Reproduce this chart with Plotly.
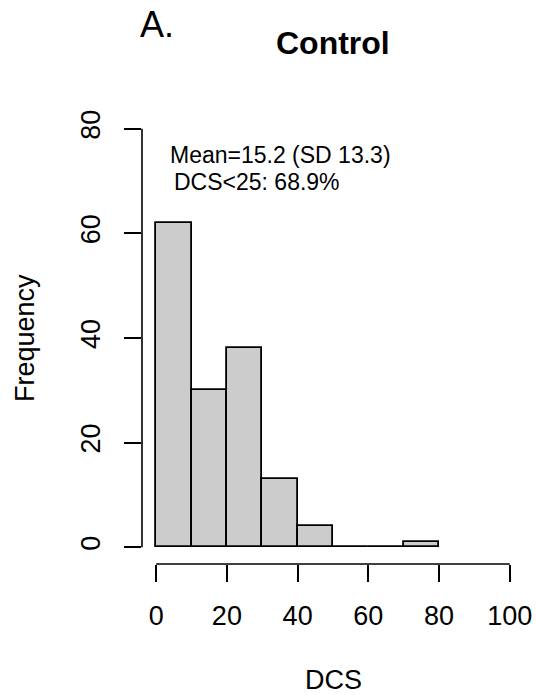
import plotly.graph_objects as go

# Data
bin_edges = [0, 10, 20, 30, 40, 50, 60, 70, 80]
counts = [62, 30, 38, 13, 4, 0, 0, 1]
x_ticks = [0, 20, 40, 60, 80, 100]
y_ticks = [0, 20, 40, 60, 80]
title_text = "Control"
panel_label = "A."
stats_line1 = "Mean=15.2 (SD 13.3)"
stats_line2 = "DCS<25: 68.9%"
x_title = "DCS"
y_title = "Frequency"

centers = [(bin_edges[i] + bin_edges[i + 1]) / 2 for i in range(len(counts))]
widths = [bin_edges[i + 1] - bin_edges[i] for i in range(len(counts))]

FONT = "Liberation Sans, Arial, sans-serif"
TICK_SIZE = 27

fig = go.Figure()
fig.add_trace(go.Bar(
    x=centers, y=counts, width=widths,
    marker=dict(color="#CCCCCC", line=dict(color="black", width=1.8)),
    hoverinfo="x+y",
))

x_lo, x_hi = x_ticks[0], x_ticks[-1]
y_lo, y_hi = y_ticks[0], y_ticks[-1]
xpad = 0.04 * (x_hi - x_lo)
ypad = 0.04 * (y_hi - y_lo)

fig.update_layout(
    template="none",
    width=537, height=695,
    margin=dict(l=142, r=13, t=112, b=131, pad=0),
    paper_bgcolor="white", plot_bgcolor="white",
    font=dict(family=FONT, color="black", size=TICK_SIZE),
    showlegend=False,
    bargap=0,
    xaxis=dict(
        automargin=False,
        range=[x_lo - xpad, x_hi + xpad],
        tickvals=x_ticks, ticktext=[str(v) for v in x_ticks],
        ticks="outside", ticklen=17, tickwidth=1.6, tickcolor="black",
        showline=False, showgrid=False, zeroline=False,
        tickfont=dict(size=TICK_SIZE, family=FONT, color="black"),
        ticklabelstandoff=11,
    ),
    yaxis=dict(
        automargin=False,
        range=[y_lo - ypad, y_hi + ypad],
        tickvals=y_ticks, ticktext=[str(v) for v in y_ticks],
        ticks="outside", ticklen=17, tickwidth=1.6, tickcolor="black",
        showline=False, showgrid=False, zeroline=False,
        tickangle=-90,
        tickfont=dict(size=TICK_SIZE, family=FONT, color="black"),
        ticklabelstandoff=13,
    ),
    shapes=[
        dict(type="line", xref="x", yref="paper", x0=x_lo, x1=x_hi, y0=0, y1=0,
             line=dict(color="black", width=1.6)),
        dict(type="line", xref="paper", yref="y", x0=0, x1=0, y0=y_lo, y1=y_hi,
             line=dict(color="black", width=1.6)),
    ],
    annotations=[
        dict(text=panel_label, xref="paper", yref="paper", x=-0.0105, y=1.1925,
             xanchor="left", yanchor="middle", showarrow=False,
             font=dict(size=36, family=FONT, color="black")),
        dict(text="<b>" + title_text + "</b>", xref="paper", yref="paper", x=0.5, y=1.1527,
             xanchor="center", yanchor="middle", showarrow=False,
             font=dict(size=32, family=FONT, color="black")),
        dict(text=stats_line1, xref="paper", yref="paper", x=0.068, y=0.905,
             xanchor="left", yanchor="middle", showarrow=False,
             font=dict(size=23, family=FONT, color="black")),
        dict(text=stats_line2, xref="paper", yref="paper", x=0.0785, y=0.845,
             xanchor="left", yanchor="middle", showarrow=False,
             font=dict(size=23, family=FONT, color="black")),
        dict(text=x_title, xref="paper", yref="paper", x=0.5, y=-0.257,
             xanchor="center", yanchor="middle", showarrow=False,
             font=dict(size=TICK_SIZE, family=FONT, color="black")),
        dict(text=y_title, xref="paper", yref="paper", x=-0.306, y=0.5,
             xanchor="center", yanchor="middle", showarrow=False, textangle=-90,
             font=dict(size=TICK_SIZE, family=FONT, color="black")),
    ],
)

fig.write_html("out.html")
